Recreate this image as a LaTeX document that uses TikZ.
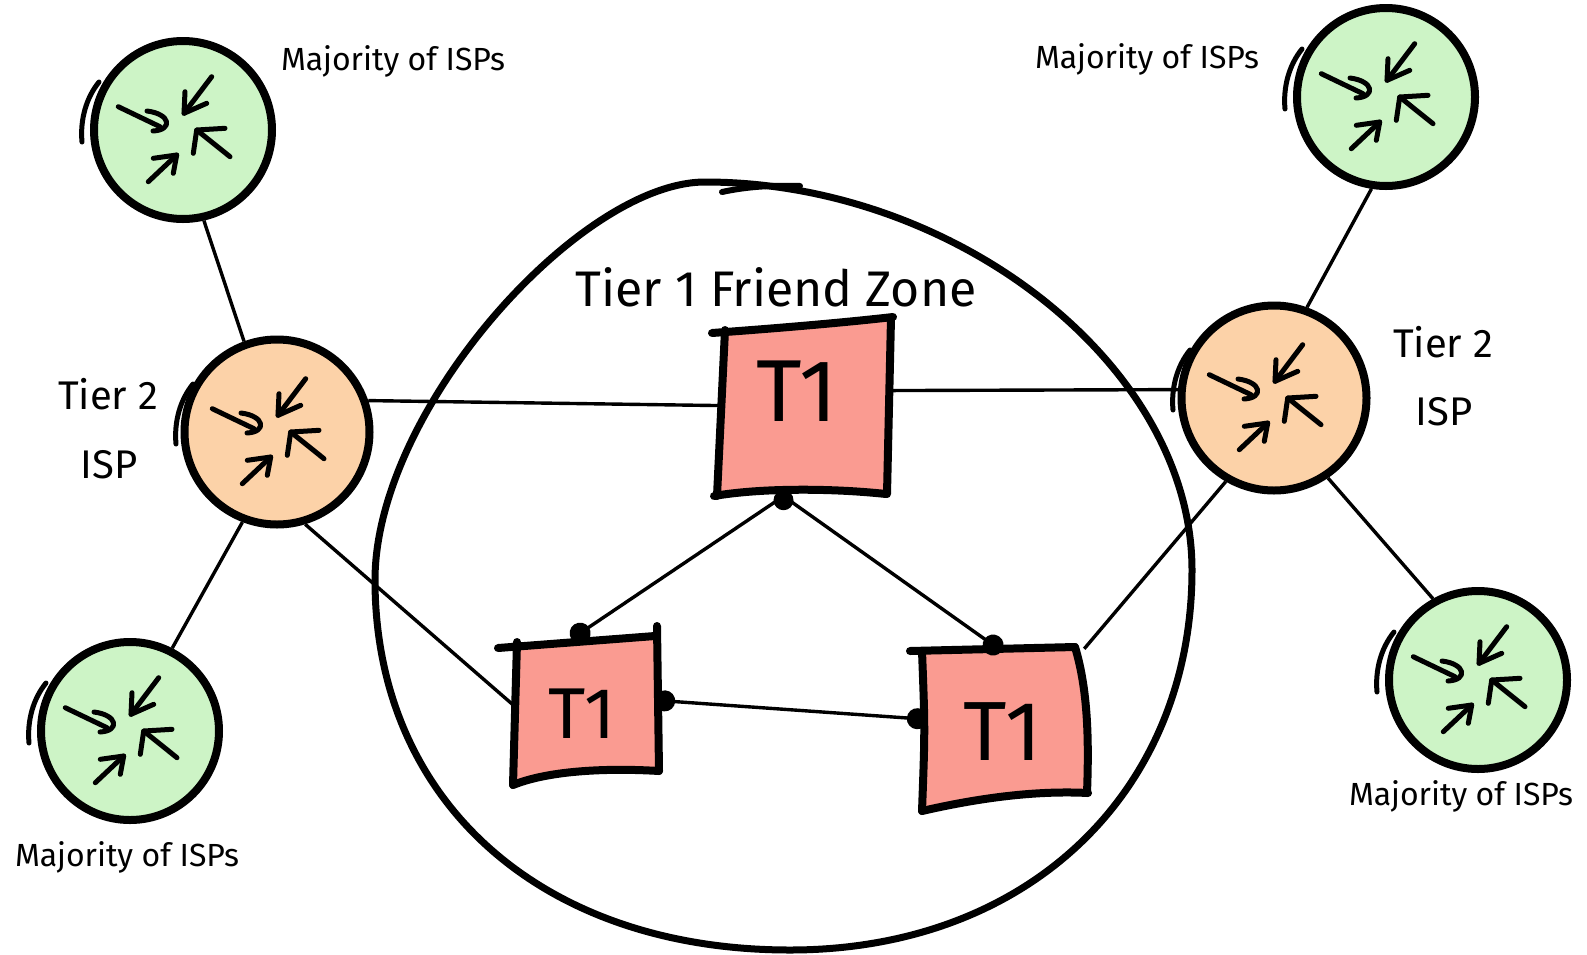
\documentclass[tikz,border=0pt]{standalone}
\usepackage{fontspec}
\setmainfont{Fira Sans}
\usetikzlibrary{arrows.meta}
\definecolor{ispgreen}{RGB}{205,244,198}
\definecolor{isporange}{RGB}{252,210,168}
\definecolor{tonered}{RGB}{250,155,145}
\tikzset{
  burst/.pic={
    \begin{scope}[line width=5pt,line cap=round,line join=round]
      \draw (-64.7,-23.3) -- (-23,-3.3);
      \draw (-36,-19) .. controls (-12,-16) and (-10,0) .. (-30,1);
      \draw (28.7,-53.3) -- (1,-16.7);
      \draw (2,-38.3) -- (1,-16.7) -- (23.7,-26.7);
      \draw (47,26.7) -- (13.7,0);
      \draw (10.3,23.3) -- (13.7,0) -- (42,-1.7);
      \draw (-34.7,51.7) -- (-6.3,25);
      \draw (-29.7,28.3) -- (-6.3,25) -- (-9.7,43.3);
      \draw[line width=5pt] (-101,12) .. controls (-103,-10) and (-97,-32) .. (-84,-48);
    \end{scope}
  }
}
\begin{document}
\begin{tikzpicture}[x=1pt,y=-1pt,
  isp/.style={circle,draw=black,line width=8pt,minimum size=178pt,inner sep=0pt},
  greenisp/.style={isp,fill=ispgreen},
  orangeisp/.style={isp,fill=isporange,minimum size=185pt},
  anchorbox/.style={rectangle,draw=none,inner sep=0pt},
  boxline/.style={line width=8pt,line cap=round,line join=round},
  link/.style={line width=3.4pt},
  dotlink/.style={link,{Circle[length=21pt,width=21pt]}-{Circle[length=21pt,width=21pt]},shorten <=-4pt,shorten >=-4pt},
  dotend/.style={link,-{Circle[length=21pt,width=21pt]},shorten >=-4pt},
  hand/.style={font=\fontsize{#1}{#1}\selectfont,inner sep=0pt},
]
\fill[white] (0,0) rectangle (1587,954);
\useasboundingbox (0,0) rectangle (1587,954);

% Tier 1 friend zone outline
\draw[line width=7pt] (705,182) .. controls (955,182) and (1192,365) .. (1192,570)
  .. controls (1192,790) and (1030,950) .. (790,950)
  .. controls (540,950) and (375,800) .. (375,580)
  .. controls (375,410) and (580,182) .. (705,182) -- cycle;
\draw[line width=6pt,line cap=round] (722,192) .. controls (745,187) and (770,185) .. (800,186);
\node[hand=50] (zone) at (776,287) {Tier 1 Friend Zone};

% T1 boxes (sketched)
\fill[tonered] (725,331) .. controls (780,328) and (840,323) .. (890,320) -- (887,494)
  .. controls (830,488) and (760,488) .. (717,496) -- cycle;
\draw[boxline] (712,333) .. controls (780,328) and (840,323) .. (893,317);
\draw[boxline] (725,330) -- (717,496);
\draw[boxline] (891,318) -- (887,494);
\draw[boxline] (714,496) .. controls (760,488) and (830,488) .. (886,494);

\fill[tonered] (517,646) -- (657,636) -- (659,771)
  .. controls (610,768) and (550,770) .. (513,785) -- cycle;
\draw[boxline] (498,648) -- (655,636);
\draw[boxline] (517,642) -- (513,785);
\draw[boxline] (657,626) -- (659,771);
\draw[boxline] (513,785) .. controls (550,770) and (610,768) .. (659,771);

\fill[tonered] (922,652) -- (1075,647) .. controls (1088,690) and (1089,740) .. (1087,793)
  .. controls (1030,790) and (970,800) .. (922,810) -- cycle;
\draw[boxline] (910,651) -- (1075,647);
\draw[boxline] (922,651) .. controls (925,730) .. (922,811);
\draw[boxline] (1075,647) .. controls (1088,690) and (1089,740) .. (1087,793);
\draw[boxline] (922,811) .. controls (970,800) and (1030,790) .. (1088,793);

\node[anchorbox,minimum width=168pt,minimum height=172pt] (t1a) at (805,410) {};
\node[hand=88] (t1alabel) at (797,391) {T1};
\node[anchorbox,minimum width=144pt,minimum height=142pt] (t1b) at (586,708) {};
\node[hand=72] (t1blabel) at (582,714) {T1};
\node[anchorbox,minimum width=160pt,minimum height=160pt] (t1c) at (1004,729) {};
\node[hand=84] (t1clabel) at (1003,732) {T1};

% ISP circles
\node[greenisp] (g1) at (183,130) {}; \pic at (g1) {burst};
\node[greenisp] (g2) at (1386,97) {}; \pic at (g2) {burst};
\node[greenisp] (g3) at (130,731) {}; \pic at (g3) {burst};
\node[greenisp] (g4) at (1478,680) {}; \pic at (g4) {burst};
\node[orangeisp] (o1) at (277,432) {}; \pic at (o1) {burst};
\node[orangeisp] (o2) at (1274,398) {}; \pic at (o2) {burst};

% labels
\node[hand=32] (m1) at (393,61) {Majority of ISPs};
\node[hand=32] (m2) at (1147,59) {Majority of ISPs};
\node[hand=32] (m3) at (127,857) {Majority of ISPs};
\node[hand=32] (m4) at (1461,796) {Majority of ISPs};
\node[hand=40] (tl1) at (108,394) {Tier 2};
\node[hand=40] (tl2) at (109,465) {ISP};
\node[hand=40] (tr1) at (1443,342) {Tier 2};
\node[hand=40] (tr2) at (1444,412) {ISP};

% connectors
\draw[link] (g1.283) -- (o1.110);
\draw[link] (o1.19) -- (t1a.177);
\draw[link] (t1a.13) -- (o2.175);
\draw[link] (o2.70) -- (g2.261);
\draw[link] (o2.240) -- (t1c.north east);
\draw[link] (o2.304) -- (g4.119);
\draw[link] (o1.249) -- (g3.63);
\draw[link] (o1.287) -- (t1b.178);
\draw[dotend] (t1a.256) -- (t1b.99);
\draw[dotend] (t1a.256) -- (t1c.94);
\fill (t1a.256) ++(0,4) circle (10);
\draw[dotlink] (t1b.6) -- (t1c.173);
\end{tikzpicture}
\end{document}
